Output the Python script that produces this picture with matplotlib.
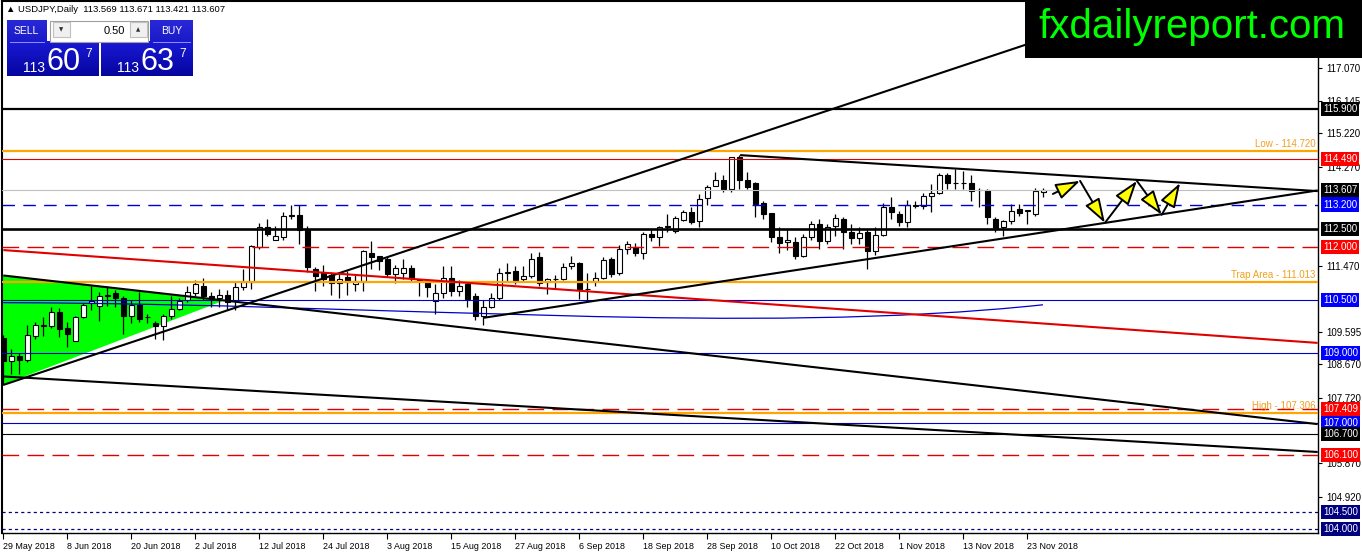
import matplotlib
matplotlib.use("Agg")
import numpy as np
import matplotlib.pyplot as plt
from matplotlib.patches import Polygon, Rectangle, FancyArrowPatch, PathPatch
from matplotlib.path import Path
from matplotlib.transforms import blended_transform_factory

plt.rcParams['font.family'] = ['Liberation Sans', 'DejaVu Sans']

# ---------------- data ----------------
symbol_text = "\u25B2 USDJPY,Daily  113.569 113.671 113.421 113.607"
date_labels = ["29 May 2018", "8 Jun 2018", "20 Jun 2018", "2 Jul 2018", "12 Jul 2018",
               "24 Jul 2018", "3 Aug 2018", "15 Aug 2018", "27 Aug 2018", "6 Sep 2018",
               "18 Sep 2018", "28 Sep 2018", "10 Oct 2018", "22 Oct 2018", "1 Nov 2018",
               "13 Nov 2018", "23 Nov 2018"]
date_label_bars = list(range(0, 129, 8))

opens = [109.43, 108.76, 108.90, 108.80, 109.47, 109.80, 109.76, 110.15, 109.70, 109.33,
         110.02, 110.40, 110.32, 110.62, 110.70, 110.55, 110.04, 110.35, 110.00, 109.85,
         109.76, 110.04, 110.25, 110.50, 110.68, 110.90, 110.60, 110.55, 110.65, 110.47,
         110.85, 111.00, 111.99, 112.56, 112.20, 112.27, 112.88, 112.90, 112.47, 111.37,
         111.25, 111.20, 110.97, 111.15, 110.95, 111.03, 111.84, 111.73, 111.66, 111.22,
         111.25, 111.41, 111.05, 111.00, 110.47, 110.68, 111.13, 110.75, 110.94, 110.60,
         110.04, 110.30, 110.55, 111.25, 111.33, 111.08, 111.18, 111.70, 111.00, 111.08,
         111.08, 111.45, 111.54, 110.80, 111.04, 111.13, 111.65, 111.27, 111.94, 112.00,
         111.84, 112.36, 112.28, 112.55, 112.44, 112.76, 112.98, 112.72, 113.38, 113.73,
         113.90, 113.64, 114.54, 113.90, 113.82, 113.23, 112.96, 112.27, 112.14, 112.14,
         111.74, 112.27, 112.65, 112.17, 112.58, 112.80, 112.43, 112.24, 112.43, 111.88,
         112.33, 113.12, 112.93, 112.71, 113.15, 113.16, 113.43, 113.52, 114.05, 113.80,
         113.82, 113.81, 113.60, 113.62, 112.79, 112.55, 112.74, 113.07, 113.02, 112.93,
         113.569]
highs = [109.50, 109.10, 109.00, 109.78, 109.86, 110.00, 110.30, 110.28, 109.87, 110.05,
         110.40, 110.90, 110.72, 110.90, 110.78, 110.60, 110.50, 110.72, 110.10, 109.90,
         110.10, 110.60, 110.55, 110.90, 111.05, 111.13, 110.72, 110.80, 110.78, 111.00,
         111.37, 112.05, 112.68, 112.80, 112.60, 113.00, 113.20, 113.20, 112.60, 111.43,
         111.50, 111.30, 111.26, 111.33, 111.20, 111.90, 112.17, 111.75, 111.70, 111.50,
         111.65, 111.50, 111.10, 111.05, 110.95, 111.46, 111.46, 111.05, 111.00, 110.70,
         110.50, 110.70, 111.40, 111.55, 111.45, 111.45, 111.84, 111.85, 111.13, 111.20,
         111.55, 111.75, 111.56, 111.27, 111.30, 111.70, 111.70, 112.05, 112.17, 112.10,
         112.41, 112.50, 112.60, 112.93, 112.88, 113.05, 113.12, 113.50, 113.75, 114.11,
         114.03, 114.55, 114.60, 114.11, 113.83, 113.30, 112.97, 112.55, 112.50, 112.27,
         112.36, 112.74, 112.78, 112.65, 112.93, 112.84, 112.65, 112.55, 112.50, 112.57,
         113.23, 113.40, 113.03, 113.34, 113.30, 113.53, 113.78, 114.08, 114.10, 114.20,
         114.15, 114.05, 113.66, 113.64, 112.84, 112.77, 113.21, 113.21, 113.05, 113.66,
         113.671]
lows = [108.10, 108.40, 108.40, 108.75, 109.38, 109.47, 109.70, 109.46, 109.17, 109.33,
        109.98, 110.20, 109.90, 110.33, 110.30, 109.52, 109.85, 109.86, 109.85, 109.38,
        109.35, 109.95, 110.20, 110.45, 110.60, 110.50, 110.30, 110.30, 110.20, 110.20,
        110.77, 110.80, 111.93, 112.30, 112.20, 112.20, 112.80, 112.07, 111.30, 110.75,
        110.90, 110.65, 110.55, 110.65, 110.76, 110.76, 111.37, 111.35, 111.16, 110.97,
        111.10, 111.00, 110.60, 110.57, 110.10, 110.56, 110.62, 110.60, 110.30, 109.93,
        109.80, 110.28, 110.50, 111.00, 110.95, 111.00, 111.13, 110.90, 110.67, 110.80,
        111.05, 111.37, 110.52, 110.47, 110.90, 111.10, 111.15, 111.20, 111.79, 111.74,
        111.65, 112.17, 112.03, 112.42, 112.40, 112.74, 112.65, 112.57, 113.18, 113.73,
        113.55, 113.56, 113.64, 113.64, 112.84, 112.80, 112.15, 111.84, 111.90, 111.65,
        111.70, 112.20, 111.93, 112.07, 112.31, 111.94, 112.07, 112.07, 111.37, 111.78,
        112.30, 112.79, 112.59, 112.55, 113.09, 113.07, 112.98, 113.50, 113.63, 113.64,
        113.64, 113.30, 113.12, 112.64, 112.43, 112.31, 112.65, 112.87, 112.64, 112.88,
        113.421]
closes = [108.76, 108.90, 108.79, 109.50, 109.80, 109.75, 110.15, 109.66, 109.52, 110.02,
          110.35, 110.48, 110.61, 110.65, 110.55, 110.04, 110.35, 109.97, 110.00, 109.75,
          110.04, 110.25, 110.48, 110.73, 110.95, 110.61, 110.55, 110.65, 110.45, 110.85,
          111.00, 112.03, 112.56, 112.36, 112.30, 112.88, 112.90, 112.47, 111.43, 111.18,
          111.10, 110.99, 111.10, 111.00, 111.03, 111.87, 111.71, 111.60, 111.24, 111.41,
          111.40, 111.13, 111.03, 110.85, 110.68, 111.13, 110.75, 110.90, 110.51, 110.04,
          110.30, 110.54, 111.27, 111.30, 111.07, 111.18, 111.67, 110.99, 111.08, 111.08,
          111.43, 111.54, 110.80, 110.82, 111.13, 111.62, 111.24, 111.94, 112.08, 111.82,
          112.36, 112.28, 112.55, 112.60, 112.82, 112.98, 112.71, 113.37, 113.69, 113.90,
          113.64, 114.54, 113.90, 113.71, 113.21, 112.93, 112.27, 112.12, 112.20, 111.74,
          112.27, 112.65, 112.17, 112.55, 112.83, 112.43, 112.25, 112.40, 111.89, 112.35,
          113.12, 112.98, 112.71, 113.18, 113.18, 113.43, 113.52, 114.05, 113.81, 113.82,
          113.80, 113.59, 113.60, 112.84, 112.50, 112.74, 113.02, 112.95, 113.02, 113.57,
          113.607]

# horizontal levels
level_prices = [115.900, 114.720, 114.490, 113.607, 113.200, 112.500, 112.000, 111.013,
                110.500, 109.000, 107.409, 107.306, 107.000, 106.700, 106.100, 104.500, 104.000]
level_kinds = ['black_thick', 'orange', 'red_thin', 'bid', 'blue_dash', 'black_thick2',
               'red_dash', 'orange', 'blue_thin', 'blue_thin', 'red_dash', 'orange',
               'blue_thin', 'black_thin', 'red_dash', 'navy_dot', 'navy_dot']

# price labels on the right scale (price, kind)
tag_prices = [115.900, 114.490, 113.607, 113.200, 112.500, 112.000, 110.500, 109.000,
              107.409, 107.000, 106.700, 106.100, 104.500, 104.000]
tag_kinds = ['black', 'red', 'black', 'blue', 'black', 'red', 'blue', 'blue',
             'red', 'blue', 'black', 'red', 'navy', 'navy']
scale_ticks = [117.070, 116.145, 115.220, 114.270, 111.470, 109.595, 108.670, 107.720,
               105.870, 104.920]

# named line texts
line_texts = ["Low - 114.720", "Trap Area - 111.013", "High - 107.306"]
line_text_prices = [114.720, 111.013, 107.306]

# trend lines: (bar, price) anchors
rising_line = [(0.0, 108.09), (127.7, 117.72)]
falling_line = [(0.0, 111.19), (164.3, 106.98)]
red_line = [(0.0, 111.91), (164.3, 109.28)]
lower_line = [(0.0, 108.33), (164.3, 106.19)]
tri_upper = [(92.1, 114.60), (164.3, 113.58)]
tri_lower = [(60.0, 109.99), (164.3, 113.60)]
green_tri = [(-0.1, 111.20), (-0.1, 108.09), (27.7, 110.49)]
blue_arc = [(0.0, 110.42), (49.6, 110.39), (93.3, 109.48), (129.96, 110.36)]
arrow_path = [(131.2, 113.50), (134.6, 113.87), (137.7, 112.68), (141.7, 113.87),
              (144.8, 112.91), (147.1, 113.81)]

# ---------------- figure ----------------
W, H = 1362, 554
fig = plt.figure(figsize=(W / 100, H / 100), dpi=100)
fig.patch.set_facecolor('white')
ax = fig.add_axes([2 / W, (H - 533) / H, (1318 - 2) / W, (533 - 1) / H])
ax.set_facecolor('white')
XMIN, XMAX = -0.1625, 164.34
ax.set_xlim(XMIN, XMAX)
ax.set_ylim(103.895, 118.966)

# green triangle (background)
ax.add_patch(Polygon(green_tri, closed=True, facecolor='#00ff00', edgecolor='none', zorder=1))

# candles
bars = np.arange(len(opens))
o = np.array(opens); h = np.array(highs); l = np.array(lows); c = np.array(closes)
ax.vlines(bars, l, h, color='black', linewidth=0.9, zorder=3)
bull = c >= o
body_lo = np.minimum(o, c)
body_h = np.maximum(np.abs(c - o), 0.012)
ax.bar(bars[bull], body_h[bull], bottom=body_lo[bull], width=0.62,
       facecolor='white', edgecolor='black', linewidth=0.8, zorder=4)
ax.bar(bars[~bull], body_h[~bull], bottom=body_lo[~bull], width=0.62,
       facecolor='black', edgecolor='black', linewidth=0.8, zorder=4)

# horizontal levels
styles = {
    'black_thick': dict(color='black', lw=1.6, ls='-'),
    'black_thick2': dict(color='black', lw=1.9, ls='-'),
    'orange': dict(color='#ffa500', lw=1.6, ls='-'),
    'red_thin': dict(color='#e00000', lw=0.8, ls='-'),
    'bid': dict(color='#c0c0c0', lw=0.8, ls='-'),
    'blue_dash': dict(color='#0000cc', lw=1.0, ls=(0, (9, 6))),
    'red_dash': dict(color='#e00000', lw=1.0, ls=(0, (12, 6))),
    'blue_thin': dict(color='#0000cc', lw=0.8, ls='-'),
    'black_thin': dict(color='black', lw=0.8, ls='-'),
    'navy_dot': dict(color='#000080', lw=0.9, ls=(0, (2.5, 2.5))),
}
for p, k in zip(level_prices, level_kinds):
    s = styles[k]
    ax.axhline(p, color=s['color'], lw=s['lw'], ls=s['ls'], zorder=5)

# trend lines
def seg(a, b, x_end=None):
    (x0, y0), (x1, y1) = a, b
    if x_end is None:
        return [x0, x1], [y0, y1]
    m = (y1 - y0) / (x1 - x0)
    return [x0, x_end], [y0, y0 + m * (x_end - x0)]

xs, ys = seg(*rising_line, x_end=XMAX)
ax.plot(xs, ys, color='black', lw=1.5, zorder=6, solid_capstyle='butt')
for ln, col, lw in [(falling_line, 'black', 1.5), (red_line, '#e00000', 1.5),
                    (lower_line, 'black', 1.5), (tri_upper, 'black', 1.5),
                    (tri_lower, 'black', 1.5)]:
    xs, ys = seg(*ln)
    ax.plot(xs, ys, color=col, lw=lw, zorder=6, solid_capstyle='butt')

arc = Path(blue_arc, [Path.MOVETO, Path.CURVE4, Path.CURVE4, Path.CURVE4])
ax.add_patch(PathPatch(arc, facecolor='none', edgecolor='#0000cc', lw=0.9, zorder=5))

# arrows
for a, b in zip(arrow_path[:-1], arrow_path[1:]):
    ax.add_patch(FancyArrowPatch(a, b, arrowstyle='-|>,head_length=1.5,head_width=0.5',
                                 mutation_scale=10, lw=1.4, edgecolor='black',
                                 facecolor='#ffff00', shrinkA=0, shrinkB=0, zorder=8))

# line texts
for t, p in zip(line_texts, line_text_prices):
    ax.annotate(t, xy=(XMAX, p), xytext=(-2, 1.2), textcoords='offset points',
                ha='right', va='bottom', fontsize=7, color='#f0a020', zorder=7)

# axes styling
for side in ['left', 'top']:
    ax.spines[side].set_linewidth(1.5)
for side in ['right', 'bottom']:
    ax.spines[side].set_linewidth(1.0)
ax.yaxis.tick_right()
ax.set_yticks(scale_ticks)
ax.set_yticklabels([f"{v:.3f}" for v in scale_ticks])
ax.tick_params(axis='y', length=3, width=0.8, pad=3, labelsize=7, colors='black')
ax.set_xticks(date_label_bars)
ax.set_xticklabels(date_labels)
for lbl in ax.get_xticklabels():
    lbl.set_ha('left')
ax.tick_params(axis='x', length=4, width=0.8, pad=2.5, labelsize=6.4)

# price tags
tag_colors = {'black': '#000000', 'red': '#ff0000', 'blue': '#0000ff', 'navy': '#000080'}
trans = blended_transform_factory(ax.transAxes, ax.transData)
for p, k in zip(tag_prices, tag_kinds):
    ax.annotate(f"{p:.3f}", xy=(1.0, p), xycoords=trans, xytext=(3.6, 0),
                textcoords='offset points', ha='left', va='center', fontsize=7,
                color='white', annotation_clip=False, zorder=20,
                bbox=dict(boxstyle='square,pad=0.22', fc=tag_colors[k], ec='none'))

# ---------------- overlay (panel + watermark) ----------------
ov = fig.add_axes([0, 0, 1, 1], zorder=10)
ov.patch.set_alpha(0)
ov.axis('off')

def grad_rect(x0, y0, x1, y1, top, bot):
    t = np.linspace(0, 1, 64)[:, None, None]
    arr = (1 - t) * np.array(top)[None, None, :] + t * np.array(bot)[None, None, :]
    ov.imshow(arr, extent=(x0, x1, y1, y0), aspect='auto', interpolation='bilinear', zorder=1)

grad_rect(6.7, 20, 46.7, 41.7, (0.16, 0.16, 0.85), (0.10, 0.10, 0.78))
grad_rect(150, 20, 192.7, 41.7, (0.16, 0.16, 0.85), (0.10, 0.10, 0.78))
grad_rect(6.7, 41.7, 98.3, 76, (0.10, 0.10, 0.84), (0.02, 0.02, 0.62))
grad_rect(101, 41.7, 192.7, 76, (0.10, 0.10, 0.84), (0.02, 0.02, 0.62))
ov.plot([10, 44], [41.5, 41.5], color='#9090ff', lw=0.7, zorder=2)
ov.plot([153, 190], [41.5, 41.5], color='#9090ff', lw=0.7, zorder=2)
ov.add_patch(Rectangle((50, 20.7), 98.3, 21, facecolor='white', edgecolor='#a0a0a0', lw=0.8, zorder=2))
ov.add_patch(Rectangle((53, 22), 17, 15, facecolor='#f0f0f0', edgecolor='#c0c0c0', lw=0.8, zorder=3))
ov.add_patch(Rectangle((130, 22), 16.7, 15, facecolor='#f0f0f0', edgecolor='#c0c0c0', lw=0.8, zorder=3))
ov.text(61.5, 30, "\u25BC", fontsize=4, ha='center', va='center', color='#303030',
        family=['DejaVu Sans'], zorder=4)
ov.text(138.3, 29.5, "\u25B2", fontsize=4, ha='center', va='center', color='#303030',
        family=['DejaVu Sans'], zorder=4)
ov.text(125, 30.5, "0.50", fontsize=8, ha='right', va='center', color='black', zorder=4)
ov.text(26.7, 31, "SELL", fontsize=7.5, ha='center', va='center', color='white', zorder=4)
ov.text(171.3, 31, "BUY", fontsize=7.5, ha='center', va='center', color='white', zorder=4)
for xs_, big in [(23, "60"), (117, "63")]:
    ov.text(xs_, 72.5, "113", fontsize=10, ha='left', va='baseline', color='white', zorder=4)
    ov.text(xs_ + 24, 69.5, big, fontsize=22, ha='left', va='baseline', color='white', zorder=4)
    ov.text(xs_ + 62, 48, "7", fontsize=8.5, ha='left', va='top', color='white', zorder=4)

ov.text(6, 9, symbol_text, fontsize=6.8, ha='left', va='center', color='black', zorder=4)

ov.add_patch(Rectangle((1025, 0), 337, 58, facecolor='black', edgecolor='none', zorder=5))
ov.text(1192, 27, "fxdailyreport.com", fontsize=29, ha='center', va='center',
        color='#00ff00', zorder=6)

ov.set_xlim(0, W)
ov.set_ylim(H, 0)

fig.savefig("out.png", dpi=100)
